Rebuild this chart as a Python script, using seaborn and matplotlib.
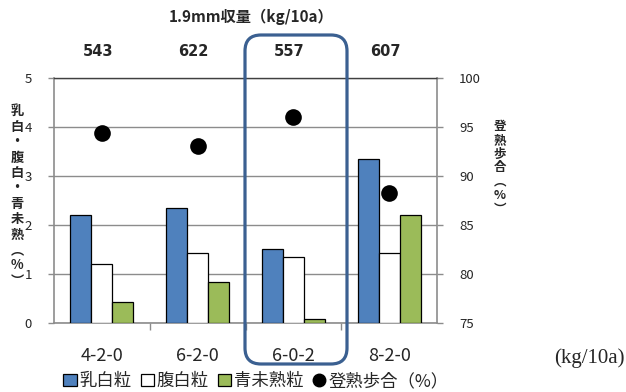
import pandas as pd
from matplotlib import pyplot as plt
from matplotlib.patches import FancyBboxPatch, Patch
from matplotlib.lines import Line2D
from matplotlib.transforms import IdentityTransform
import seaborn as sns

# data
treatments = ["4-2-0", "6-2-0", "6-0-2", "8-2-0"]
yield_19mm = [543, 622, 557, 607]
milky_white = [2.2, 2.35, 1.5, 3.35]
belly_white = [1.2, 1.43, 1.33, 1.43]
green_immature = [0.42, 0.82, 0.07, 2.2]
ripening_ratio = [94.4, 93.0, 96.0, 88.2]
series_names = ["乳白粒", "腹白粒", "青未熟粒"]
series_colors = ["#4F81BD", "#FFFFFF", "#9BBB59"]

sns.set_style("white")
plt.rcParams["font.family"] = ["Noto Sans CJK JP", "DejaVu Sans"]

df = pd.DataFrame({
    "treatment": treatments * 3,
    "kind": [n for n in series_names for _ in treatments],
    "value": milky_white + belly_white + green_immature,
})

fig = plt.figure(figsize=(6.26, 3.92), dpi=100)
ax = fig.add_axes([54 / 626, 1 - 322.5 / 392, (437 - 54) / 626, (322.5 - 78) / 392])

sns.barplot(df, x="treatment", y="value", hue="kind", palette=series_colors, saturation=1,
            width=0.66, edgecolor="black", linewidth=0.9, legend=False, ax=ax, zorder=3)
ax.set_ylim(0, 5)
ax.set_xlim(-0.5, 3.5)
ax.set_yticks(range(0, 6))
ax.yaxis.grid(True, color="#8C8C8C", linewidth=1.0, zorder=0)
ax.set_axisbelow(True)
ax.set_xlabel("")
ax.set_ylabel("")
ax.tick_params(axis="y", left=True, length=4, width=1, color="#8C8C8C", labelsize=9.5, pad=12)
ax.tick_params(axis="x", bottom=False, labelsize=13, pad=14)
ax.set_xticks([0.5, 1.5, 2.5], minor=True)
ax.tick_params(axis="x", which="minor", bottom=True, length=5, width=1, color="#8C8C8C")
for side in ["left", "bottom", "right"]:
    ax.spines[side].set_color("#8C8C8C")
    ax.spines[side].set_linewidth(1.2)
ax.spines["top"].set_color("#404040")
ax.spines["top"].set_linewidth(1.0)

ax2 = ax.twinx()
sns.stripplot(x=treatments, y=ripening_ratio, color="black", size=12, jitter=False, ax=ax2, zorder=4)
ax2.set_ylim(75, 100)
ax2.set_xlim(-0.5, 3.5)
ax2.set_yticks(range(75, 101, 5))
ax2.tick_params(axis="y", right=True, length=4, width=1, color="#8C8C8C", labelsize=9.5, pad=12)
for side in ["left", "bottom", "right", "top"]:
    ax2.spines[side].set_visible(False)

# yield values above the plot
fig.text(251 / 626, 1 - 17 / 392, "1.9mm収量（kg/10a）", ha="center", va="center",
         fontsize=11, fontweight="bold")
for i, v in enumerate(yield_19mm):
    ax.text(i - 0.04, 1.11, str(v), transform=ax.get_xaxis_transform(), ha="center", va="center",
            fontsize=10.5, fontweight="bold", fontfamily=["DejaVu Sans"])

# vertical axis titles
fig.text(17 / 626, 1 - 196 / 392, "\n".join("乳白・腹白・青未熟︵%︶"), ha="center", va="center",
         fontsize=9.5, fontweight="bold", linespacing=1.13)
fig.text(500 / 626, 1 - 168 / 392, "\n".join("登熟歩合︵%︶"), ha="center", va="center",
         fontsize=9, fontweight="bold", linespacing=1.07)

fig.text(589 / 626, 1 - 358 / 392, "(kg/10a)", ha="center", va="center",
         fontsize=15, fontfamily=["Liberation Serif"])

handles = [Patch(facecolor=c, edgecolor="black", linewidth=0.9) for c in series_colors]
handles.append(Line2D([], [], marker="o", color="black", linestyle="", markersize=9))
fig.legend(handles, series_names + ["登熟歩合（%）"], loc="center", ncol=4,
           bbox_to_anchor=(256 / 626, 1 - 381 / 392), frameon=False, fontsize=12.5,
           handlelength=0.75, handleheight=0.75, handletextpad=0.15, columnspacing=0.55,
           borderpad=0, borderaxespad=0)

# highlight box around 6-0-2
box = FancyBboxPatch((245, 392 - 364), 102, 329, boxstyle="round,pad=0,rounding_size=16",
                     transform=IdentityTransform(), fill=False, edgecolor="#3B6091",
                     linewidth=2.3, zorder=10)
fig.add_artist(box)

fig.savefig("out.png", dpi=100)
